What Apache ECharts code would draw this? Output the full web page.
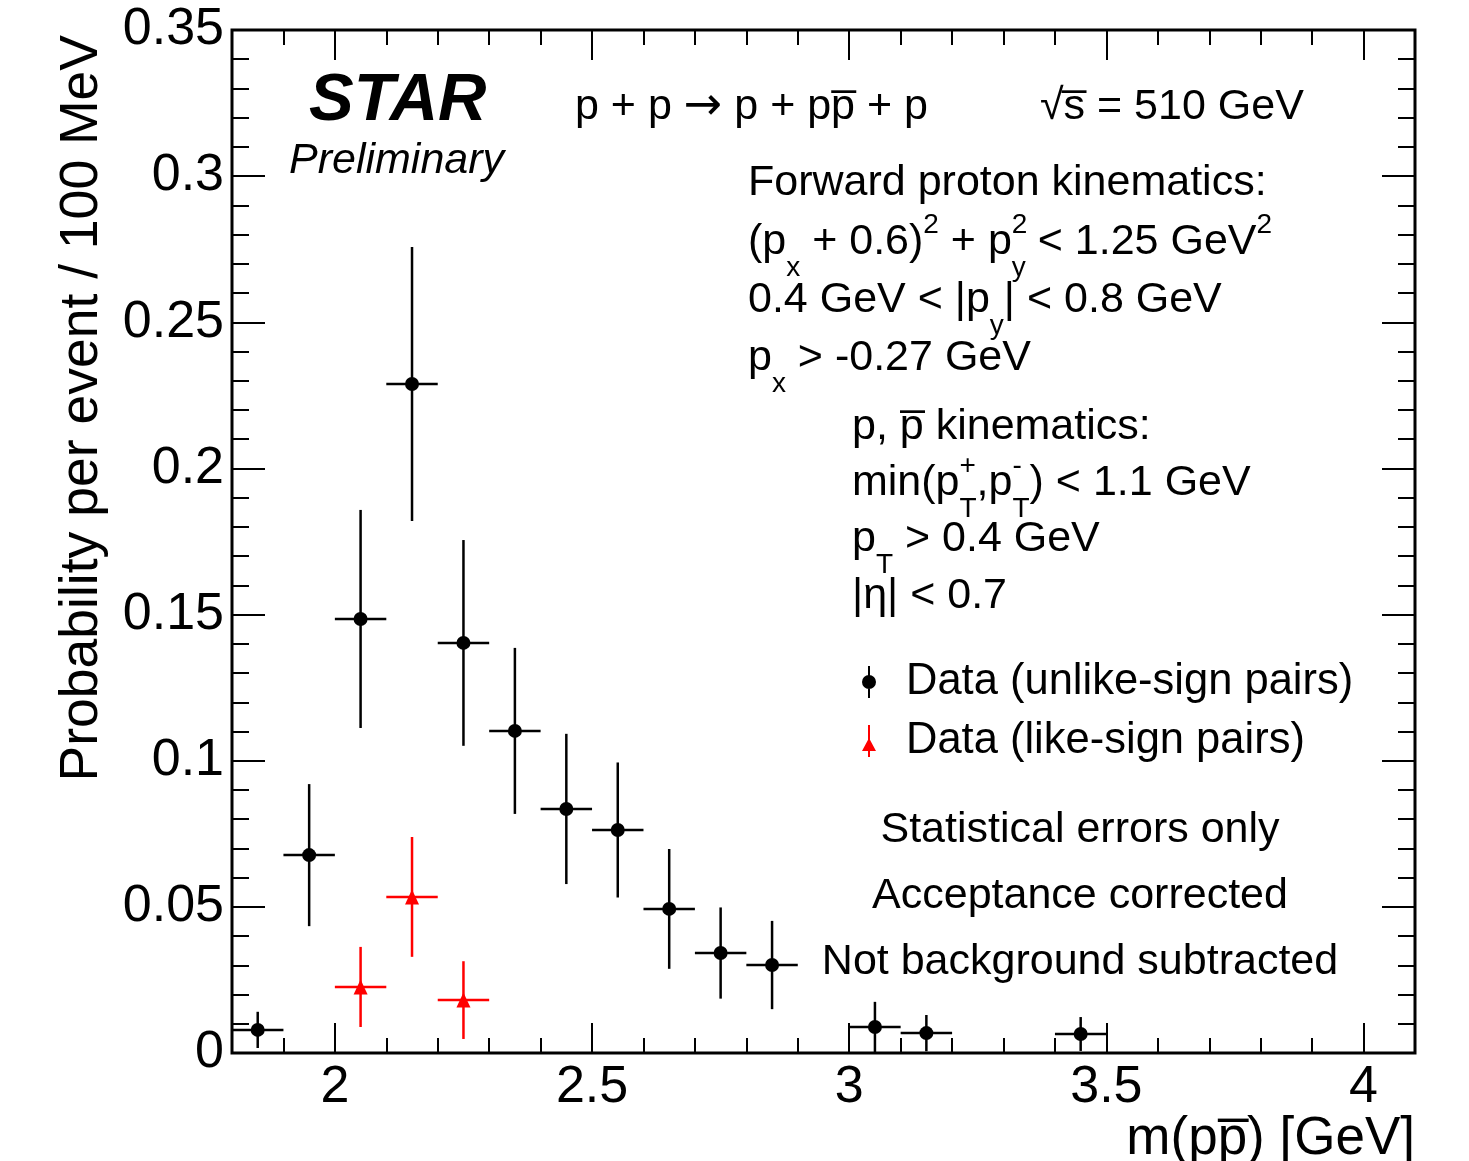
<!DOCTYPE html>
<html>
<head>
<meta charset="utf-8">
<script src="https://cdn.jsdelivr.net/npm/echarts@6/dist/echarts.min.js"></script>
<style>
html,body{margin:0;padding:0;background:#fff;}
#main{width:1469px;height:1161px;}
</style>
</head>
<body>
<div id="main"></div>
<script>
// m(p pbar) bin centres and probabilities
var massUnlike=[1.85,1.95,2.05,2.15,2.25,2.35,2.45,2.55,2.65,2.75,2.85,3.05,3.15,3.45];
var probUnlike=[0.0079,0.0677,0.1485,0.2289,0.1403,0.1102,0.0835,0.0763,0.0493,0.0342,0.0301,0.0089,0.0068,0.0065];
var errUnlike=[0.0062,0.0243,0.0373,0.0469,0.0352,0.0284,0.0257,0.0231,0.0205,0.0156,0.0151,0.0086,0.0062,0.0058];
var massLike=[2.05,2.15,2.25];
var probLike=[0.0226,0.0534,0.0181];
var errLike=[0.0137,0.0205,0.0133];
var halfBin=0.05;
var majorX=[2,2.5,3,3.5,4];
var minorX=[1.9,2.0,2.1,2.2,2.3,2.4,2.5,2.6,2.7,2.8,2.9,3.0,3.1,3.2,3.3,3.4,3.5,3.6,3.7,3.8,3.9,4.0,4.1];

var FONT='"Liberation Sans", Arial, Helvetica, sans-serif';
var nameUnlike='Data (unlike-sign pairs)';
var nameLike='Data (like-sign pairs)';

function rows(xs,ys,es){
    var out=[];
    for(var i=0;i<xs.length;i++){ out.push([xs[i],ys[i],es[i]]); }
    return out;
}
// error bars: +-halfBin in x, +-err in y
function errorBars(color){
    return function(params,api){
        var x=api.value(0),y=api.value(1),e=api.value(2);
        var l=api.coord([x-halfBin,y]),r=api.coord([x+halfBin,y]);
        var t=api.coord([x,y+e]),b=api.coord([x,y-e]);
        var st={stroke:color,lineWidth:2.5};
        return {type:'group',children:[
            {type:'line',shape:{x1:l[0],y1:l[1],x2:r[0],y2:r[1]},style:st},
            {type:'line',shape:{x1:t[0],y1:t[1],x2:b[0],y2:b[1]},style:st}
        ]};
    };
}
function xAxisCfg(pos,major,showLabel){
    return {
        type:'value',position:pos,min:1.8,max:4.1,
        axisLine:{show:false,onZero:false},
        splitLine:{show:false},
        axisTick:{show:true,inside:true,length:major?30:15,customValues:major?majorX:minorX,
            lineStyle:{color:'#000',width:2}},
        axisLabel:{show:showLabel,customValues:majorX,fontSize:52,fontFamily:FONT,color:'#000',margin:9}
    };
}
function yAxisCfg(pos,showLabel){
    return {
        type:'value',position:pos,min:0,max:0.35,interval:0.05,
        axisLine:{show:false,onZero:false},
        splitLine:{show:false},
        axisTick:{show:true,inside:true,length:33,lineStyle:{color:'#000',width:2}},
        minorTick:{show:true,splitNumber:5,length:17,lineStyle:{color:'#000',width:2}},
        axisLabel:{show:showLabel,fontSize:52,fontFamily:FONT,color:'#000',margin:8}
    };
}

var subS={fontSize:28,fontFamily:FONT,lineHeight:28,verticalAlign:'bottom'};
var supS={fontSize:28,fontFamily:FONT,lineHeight:28,verticalAlign:'top',padding:[9,0,0,0]};
var supZ={fontSize:28,fontFamily:FONT,lineHeight:28,verticalAlign:'top',padding:[9,0,0,0],width:0};
var arrS={fontSize:46,fontFamily:'"DejaVu Sans", sans-serif',lineHeight:46};
function txt(x,y,text,align){
    return {type:'text',x:x,y:y,z:100,style:{text:text,fontSize:43,fontFamily:FONT,fill:'#000',
        lineHeight:80,align:align||'left',verticalAlign:'middle',
        rich:{sub:subS,sup:supS,supz:supZ,arr:arrS}}};
}

var app=echarts.init(document.getElementById('main'));
var option={
    animation:false,
    backgroundColor:'#fff',
    grid:{left:232,right:54,top:30,bottom:108,show:true,borderColor:'#000',borderWidth:3,
        backgroundColor:'transparent',outerBoundsMode:'none'},
    xAxis:[xAxisCfg('bottom',true,true),xAxisCfg('bottom',false,false),
           xAxisCfg('top',true,false),xAxisCfg('top',false,false)],
    yAxis:[yAxisCfg('left',true),yAxisCfg('right',false)],
    legend:{
        orient:'vertical',left:857,top:655,itemGap:15,itemWidth:14,itemHeight:32,
        selectedMode:false,
        data:[
            {name:nameUnlike,icon:'path://M6,0H8V32H6Z M0,16A7,7 0 1,1 14,16A7,7 0 1,1 0,16Z'},
            {name:nameLike,icon:'path://M6,0H8V32H6Z M7,13L14,26H0Z'}
        ],
        textStyle:{fontSize:43.5,fontFamily:FONT,color:'#000',padding:[0,0,0,25]}
    },
    series:[
        {type:'custom',name:nameUnlike+' err',data:rows(massUnlike,probUnlike,errUnlike),
            renderItem:errorBars('#000'),z:2,silent:true},
        {type:'scatter',name:nameUnlike,data:rows(massUnlike,probUnlike,errUnlike),
            symbol:'circle',symbolSize:14,itemStyle:{color:'#000',opacity:1},z:3},
        {type:'custom',name:nameLike+' err',data:rows(massLike,probLike,errLike),
            renderItem:errorBars('#ff0000'),z:2,silent:true},
        {type:'scatter',name:nameLike,data:rows(massLike,probLike,errLike),
            symbol:'triangle',symbolSize:[14,15],itemStyle:{color:'#ff0000',opacity:1},z:3}
    ],
    graphic:[
        {type:'text',x:82,y:35,rotation:Math.PI/2,style:{text:'Probability per event / 100 MeV',
            fontSize:53.5,fontFamily:FONT,fill:'#000',align:'right',verticalAlign:'middle'}},
        {type:'text',x:1415,y:1139,style:{text:'m(pp\u0305) [GeV]',
            fontSize:53,fontFamily:FONT,fill:'#000',align:'right',verticalAlign:'middle'}},
        {type:'text',x:309,y:102,style:{text:'STAR',fontSize:67,fontWeight:'bold',fontStyle:'italic',
            fontFamily:FONT,fill:'#000',align:'left',verticalAlign:'middle'}},
        {type:'text',x:289,y:161,style:{text:'Preliminary',fontSize:43,fontStyle:'italic',
            fontFamily:FONT,fill:'#000',align:'left',verticalAlign:'middle'}},
        txt(575,107,'p + p {arr|\u2192} p + pp\u0305 + p'),
        txt(1040,107,'\u221As\u0305 = 510 GeV'),
        txt(748,183,'Forward proton kinematics:'),
        txt(748,242,'(p{sub|x} + 0.6){sup|2} + p{supz|2}{sub|y} < 1.25 GeV{sup|2}'),
        txt(748,300,'0.4 GeV < |p{sub|y}| < 0.8 GeV'),
        txt(748,358,'p{sub|x} > -0.27 GeV'),
        txt(852,427,'p, p\u0305 kinematics:'),
        txt(852,483,'min(p{supz|+}{sub|T},p{supz|-}{sub|T}) < 1.1 GeV'),
        txt(852,539,'p{sub|T} > 0.4 GeV'),
        txt(852,596,'|\u03B7| < 0.7'),
        txt(1080,830,'Statistical errors only','center'),
        txt(1080,896,'Acceptance corrected','center'),
        txt(1080,962,'Not background subtracted','center')
    ]
};
app.setOption(option);
</script>
</body>
</html>
